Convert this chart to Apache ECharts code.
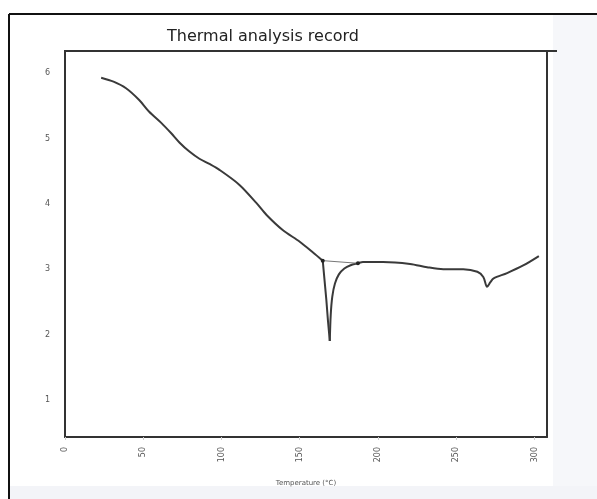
<!DOCTYPE html>
<html>
<head>
<meta charset="utf-8">
<script src="https://cdn.jsdelivr.net/npm/echarts@6/dist/echarts.min.js"></script>
<style>
  html, body { margin: 0; padding: 0; background: #ffffff; }
  #chart { width: 597px; height: 499px; }
</style>
</head>
<body>
<div id="chart"></div>
<script>
// Thermal analysis trace: signal vs. temperature (°C)
const temperature = [23.1, 31.0, 39.0, 47.4, 53.8, 61.5, 67.9, 73.1, 79.5, 85.9, 92.3, 98.7,
  111.5, 122.4, 128.8, 139.1, 150.0, 158.3, 164.7, 167.0, 168.0, 169.2, 169.8, 170.8,
  172.5, 175.0, 178.5, 182.5, 187.2, 190.4, 203.2, 220.5, 231.4, 241.7, 254.5, 263.5,
  267.3, 269.7, 271.8, 273.9, 282.5, 293.1, 302.8];
const signal = [5.93, 5.87, 5.77, 5.59, 5.41, 5.24, 5.08, 4.94, 4.80, 4.69, 4.61, 4.52,
  4.29, 4.01, 3.83, 3.60, 3.42, 3.26, 3.13, 2.53, 2.22, 1.90, 2.30, 2.58,
  2.78, 2.92, 3.01, 3.06, 3.09, 3.11, 3.11, 3.08, 3.03, 3.00, 3.00, 2.96,
  2.88, 2.73, 2.80, 2.86, 2.94, 3.06, 3.20];

// Baseline drawn under the main endothermic peak (onset → end)
const baselineTemp = [164.7, 187.2];
const baselineSignal = [3.13, 3.09];

const xTicks = [0, 50, 100, 150, 200, 250, 300];
const yTicks = [1, 2, 3, 4, 5, 6];

const curve = temperature.map((t, i) => [t, signal[i]]);
const baseline = baselineTemp.map((t, i) => [t, baselineSignal[i]]);

// The trace is drawn in three pieces so the sharp peak keeps its point:
// smooth descent up to the onset, a straight drop to the peak minimum,
// then a smooth recovery and the rest of the run.
const onsetIdx = 18;
const peakIdx = 21;
const descent = curve.slice(0, onsetIdx + 1);
const drop = curve.slice(onsetIdx, peakIdx + 1);
const recovery = curve.slice(peakIdx);

const chart = echarts.init(document.getElementById('chart'), null, { renderer: 'canvas' });

const labelStyle = { color: '#555', fontSize: 8, fontFamily: 'DejaVu Sans' };
const traceLine = { color: '#3a3a3a', width: 2 };

chart.setOption({
  animation: false,
  backgroundColor: '#ffffff',
  title: {
    text: 'Thermal analysis record',
    left: 258, top: 24,
    textAlign: 'center',
    textStyle: { fontFamily: 'DejaVu Sans', fontSize: 16, fontWeight: 'normal', color: '#222' }
  },
  graphic: [
    { type: 'rect', silent: true, z: -10,
      shape: { x: 9, y: 486, width: 588, height: 13 }, style: { fill: '#f3f4f8' } },
    { type: 'rect', silent: true, z: -10,
      shape: { x: 553, y: 15, width: 44, height: 471 }, style: { fill: '#f6f7fa' } },
    { type: 'line', silent: true,
      shape: { x1: 9, y1: 14, x2: 597, y2: 14 }, style: { stroke: '#111', lineWidth: 2 } },
    { type: 'line', silent: true,
      shape: { x1: 9, y1: 14, x2: 9, y2: 499 }, style: { stroke: '#111', lineWidth: 2 } },
    { type: 'line', silent: true,
      shape: { x1: 64, y1: 51, x2: 557, y2: 51 }, style: { stroke: '#333', lineWidth: 2 } }
  ],
  grid: { left: 65, right: 50, top: 51, bottom: 62 },
  xAxis: {
    type: 'value', min: 0, max: 308,
    name: 'Temperature (°C)', nameLocation: 'middle', nameGap: 43,
    nameTextStyle: { color: '#555', fontSize: 7, fontFamily: 'DejaVu Sans' },
    axisLine: { show: true, onZero: false, lineStyle: { color: '#333', width: 2 } },
    axisTick: { show: true, customValues: xTicks, length: 3, lineStyle: { color: '#ccc' } },
    axisLabel: { customValues: xTicks, rotate: 90, margin: 10, ...labelStyle },
    splitLine: { show: false }
  },
  yAxis: [{
    type: 'value', min: 0.43, max: 6.34,
    axisLine: { show: true, onZero: false, lineStyle: { color: '#333', width: 2 } },
    axisTick: { show: false },
    axisLabel: { customValues: yTicks, margin: 15, ...labelStyle },
    splitLine: { show: false }
  }, {
    type: 'value', min: 0.43, max: 6.34, position: 'right',
    axisLine: { show: true, onZero: false, lineStyle: { color: '#333', width: 2 } },
    axisTick: { show: false }, axisLabel: { show: false }, splitLine: { show: false }
  }],
  series: [{
    type: 'line', data: descent, smooth: 0.3, symbol: 'none', lineStyle: traceLine
  }, {
    type: 'line', data: drop, smooth: false, symbol: 'none', lineStyle: traceLine
  }, {
    type: 'line', data: recovery, smooth: 0.3, symbol: 'none', lineStyle: traceLine
  }, {
    type: 'line', data: baseline, symbol: 'circle', symbolSize: 4,
    itemStyle: { color: '#222' },
    lineStyle: { color: '#777', width: 1 }
  }]
});
</script>
</body>
</html>
